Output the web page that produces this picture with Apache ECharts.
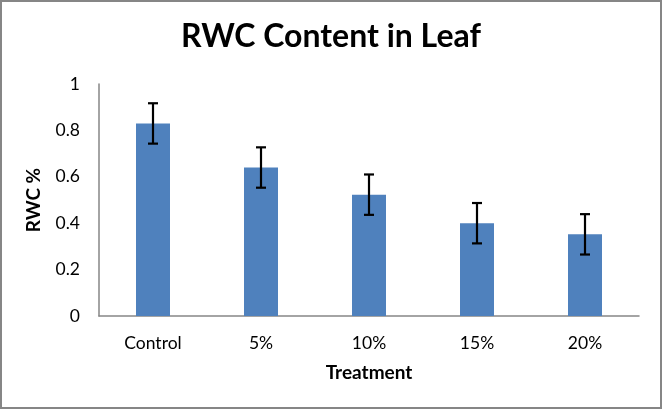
<!DOCTYPE html>
<html><head><meta charset="utf-8">
<script src="https://cdn.jsdelivr.net/npm/echarts@6/dist/echarts.min.js"></script>
<style>html,body{margin:0;padding:0;background:#fff}#c{width:662px;height:409px;box-sizing:border-box;border:2px solid #868686}</style>
</head><body><div id="c"></div>
<script>
const categories = ['Control', '5%', '10%', '15%', '20%'];
const values = [0.83, 0.64, 0.523, 0.40, 0.352];
const errors = [0.087, 0.087, 0.087, 0.087, 0.087];
const yTicks = [0, 0.2, 0.4, 0.6, 0.8, 1];

const chart = echarts.init(document.getElementById('c'));
const font = 'Lato, "Open Sans", sans-serif';
chart.setOption({
  animation: false,
  title: {text: 'RWC Content in Leaf', left: 'center', top: 14,
    textStyle: {fontFamily: font, fontWeight: 'bold', fontSize: 32, color: '#000'}},
  grid: {left: 97, right: 21, top: 82, bottom: 91},
  xAxis: {type: 'category', data: categories, name: 'Treatment', nameLocation: 'middle', nameGap: 47,
    nameTextStyle: {fontFamily: font, fontWeight: 'bold', fontSize: 19, color: '#000'},
    axisLine: {lineStyle: {color: '#868686', width: 1.5}}, axisTick: {show: false},
    axisLabel: {fontFamily: font, fontSize: 17.5, color: '#000', margin: 18}},
  yAxis: {type: 'value', min: 0, max: 1, interval: 0.2, name: 'RWC %', nameLocation: 'middle', nameGap: 56,
    nameTextStyle: {fontFamily: font, fontWeight: 'bold', fontSize: 19, color: '#000'},
    axisLine: {show: true, lineStyle: {color: '#868686', width: 1.5}}, axisTick: {show: false},
    splitLine: {show: false},
    axisLabel: {fontFamily: font, fontSize: 17.5, color: '#000', margin: 19,
      formatter: v => yTicks.includes(+v.toFixed(1)) ? String(+v.toFixed(1)) : ''}},
  series: [
    {type: 'bar', data: values, barWidth: 34, itemStyle: {color: '#4f81bd'}},
    {type: 'custom', data: values.map((v, i) => [i, v - errors[i], v + errors[i]]), z: 10,
      renderItem: (params, api) => {
        const lo = api.coord([api.value(0), api.value(1)]);
        const hi = api.coord([api.value(0), api.value(2)]);
        const w = 5;
        const st = {stroke: '#000', lineWidth: 2.2};
        return {type: 'group', children: [
          {type: 'line', shape: {x1: hi[0], y1: hi[1], x2: lo[0], y2: lo[1]}, style: st},
          {type: 'line', shape: {x1: hi[0]-w, y1: hi[1], x2: hi[0]+w, y2: hi[1]}, style: st},
          {type: 'line', shape: {x1: lo[0]-w, y1: lo[1], x2: lo[0]+w, y2: lo[1]}, style: st}
        ]};
      }}
  ]
});
</script></body></html>
